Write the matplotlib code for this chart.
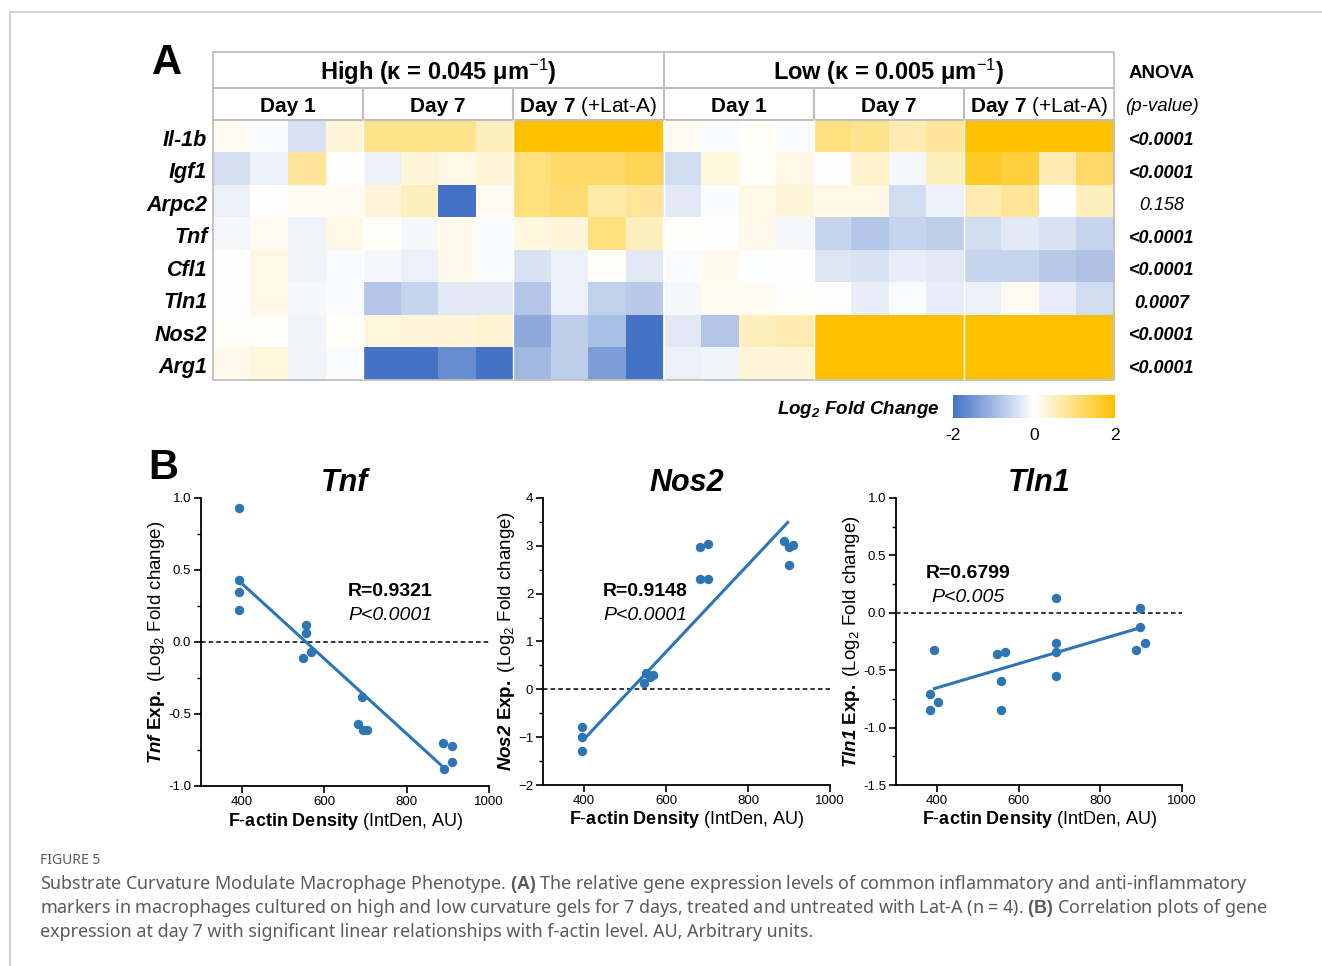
import numpy as np
import matplotlib
matplotlib.use("Agg")
import matplotlib.pyplot as plt
from matplotlib.colors import LinearSegmentedColormap
from matplotlib.lines import Line2D

plt.rcParams['font.family'] = ['Liberation Sans', 'DejaVu Sans']
plt.rcParams['mathtext.fontset'] = 'custom'
plt.rcParams['mathtext.rm'] = 'Liberation Sans'
plt.rcParams['mathtext.it'] = 'Liberation Sans:italic'
plt.rcParams['mathtext.bf'] = 'Liberation Sans:bold'
plt.rcParams['mathtext.bfit'] = 'Liberation Sans:bold:italic'

# ---------------- data: heatmap (log2 fold change) ----------------
genes = ["Il-1b", "Igf1", "Arpc2", "Tnf", "Cfl1", "Tln1", "Nos2", "Arg1"]
curvatures = ["High (κ = 0.045 μm$^{-1}$)", "Low (κ = 0.005 μm$^{-1}$)"]
days = ["Day 1", "Day 7", r"$\mathbf{Day\ 7}$ (+Lat-A)"]
anova_p = ["<0.0001", "<0.0001", "0.158", "<0.0001", "<0.0001", "0.0007", "<0.0001", "<0.0001"]
anova_bold = [True, True, False, True, True, True, True, True]

# columns: High D1 (4) | High D7 (4) | High D7+LatA (4) | Low D1 (4) | Low D7 (4) | Low D7+LatA (4)
il1b = [0.1, -0.05, -0.4, 0.3, 0.9, 0.9, 0.9, 0.5, 2, 2, 2, 2,
        0.1, -0.05, 0.05, -0.05, 1.0, 0.9, 0.6, 0.8, 2, 2, 2, 2]
igf1 = [-0.45, -0.2, 0.8, 0.0, -0.2, 0.3, 0.2, 0.3, 1.0, 1.2, 1.2, 1.3,
        -0.5, 0.25, 0.05, 0.2, 0.0, 0.4, -0.1, 0.5, 1.7, 1.5, 0.6, 1.2]
arpc2 = [-0.2, 0.0, 0.1, 0.1, 0.3, 0.5, -2.0, 0.1, 1.0, 1.1, 0.7, 0.8,
         -0.3, -0.05, 0.2, 0.3, 0.2, 0.2, -0.5, -0.2, 0.6, 0.8, 0.0, 0.5]
tnf = [-0.1, 0.1, -0.15, 0.2, 0.05, -0.1, 0.15, -0.05, 0.25, 0.3, 1.0, 0.5,
       0.02, 0.0, 0.15, -0.1, -0.6, -0.8, -0.6, -0.7, -0.5, -0.3, -0.4, -0.6]
cfl1 = [0.0, 0.2, -0.15, -0.05, -0.1, -0.2, 0.15, -0.05, -0.4, -0.2, 0.05, -0.3,
        -0.05, 0.15, -0.02, 0.0, -0.35, -0.4, -0.25, -0.3, -0.6, -0.6, -0.75, -0.85]
tln1 = [0.0, 0.2, -0.1, -0.05, -0.8, -0.6, -0.3, -0.3, -0.8, -0.2, -0.65, -0.75,
        -0.1, 0.1, 0.1, 0.02, 0.0, -0.25, -0.05, -0.25, -0.2, 0.1, -0.25, -0.5]
nos2 = [0.05, 0.05, -0.15, 0.05, 0.25, 0.3, 0.3, 0.35, -1.2, -0.7, -0.9, -2.0,
        -0.3, -0.8, 0.5, 0.6, 2, 2, 2, 2, 2, 2, 2, 2]
arg1 = [0.15, 0.25, -0.15, -0.05, -2, -2, -1.6, -2, -1.0, -0.7, -1.4, -2.0,
        -0.2, -0.15, 0.3, 0.3, 2, 2, 2, 2, 2, 2, 2, 2]

# ---------------- data: correlation plots ----------------
tnf_x = [392, 392, 392, 392, 556, 556, 547, 567, 692, 682, 693, 704, 889, 909, 911, 891]
tnf_y = [0.93, 0.43, 0.35, 0.22, 0.12, 0.06, -0.11, -0.07, -0.38, -0.57, -0.61, -0.61, -0.70, -0.72, -0.83, -0.88]
tnf_fit_x = [394, 893]
tnf_fit_y = [0.42, -0.88]

nos2_x = [394, 394, 394, 546, 552, 560, 568, 682, 703, 682, 703, 889, 900, 910, 900]
nos2_y = [-0.78, -0.99, -1.28, 0.14, 0.34, 0.25, 0.29, 2.97, 3.04, 2.31, 2.31, 3.10, 2.97, 3.02, 2.60]
nos2_fit_x = [397, 897]
nos2_fit_y = [-1.07, 3.49]

tln1_x = [394, 383, 403, 383, 546, 567, 557, 557, 692, 692, 692, 692, 898, 898, 909, 887]
tln1_y = [-0.32, -0.71, -0.78, -0.85, -0.36, -0.34, -0.59, -0.85, 0.13, -0.26, -0.34, -0.55, 0.04, -0.12, -0.26, -0.32]
tln1_fit_x = [394, 898]
tln1_fit_y = [-0.66, -0.13]

W, H = 1322, 966
fig = plt.figure(figsize=(W / 100, H / 100), dpi=100)


def box(x0, y0, x1, y1):
    return [x0 / W, 1 - y1 / H, (x1 - x0) / W, (y1 - y0) / H]


# card frame
fig.add_artist(Line2D([10 / W, 10 / W], [0, 1 - 12 / H], color="#cccccc", lw=1.2))
fig.add_artist(Line2D([10 / W, 1], [1 - 12 / H, 1 - 12 / H], color="#cccccc", lw=1.2))

# ---------------- panel A: heatmap ----------------
blue, gold = "#4472C4", "#FFC000"
cmap = LinearSegmentedColormap.from_list("bwy", [blue, "#FFFFFF", gold])
mat = np.array([il1b, igf1, arpc2, tnf, cfl1, tln1, nos2, arg1])

ax = fig.add_axes(box(213, 52, 1114, 380))
ax.imshow(mat, cmap=cmap, vmin=-2, vmax=2, aspect="auto", extent=(0, 24, 8, 0),
          interpolation="nearest")
ax.set_xlim(0, 24)
ax.set_ylim(8, -2.1)
ax.axis("off")

grid = "#bfbfbf"
ax.plot([0, 24, 24, 0, 0], [-2.1, -2.1, 8, 8, -2.1], color=grid, lw=1.3, clip_on=False)
for yy in [-1, 0]:
    ax.plot([0, 24], [yy, yy], color=grid, lw=1.5)
ax.plot([12, 12], [-2.1, 0], color=grid, lw=1.5)
for xx in [4, 8, 16, 20]:
    ax.plot([xx, xx], [-1, 0], color=grid, lw=1.5)
for xx in [4, 8, 12, 16, 20]:
    ax.plot([xx, xx], [0, 8], color="white", lw=1.0)

for i, lab in enumerate(curvatures):
    ax.text(6 + 12 * i, -1.48, lab, ha="center", va="center", fontsize=17, fontweight="bold")
    for j, d in enumerate(days):
        ax.text(2 + 12 * i + 4 * j, -0.43, d, ha="center", va="center", fontsize=15,
                fontweight="bold" if j < 2 else "normal")

for r, g in enumerate(genes):
    ax.text(-0.15, r + 0.62, g, ha="right", va="center", fontsize=15.5,
            fontweight="bold", style="italic")

ax_x = 25.28
ax.text(ax_x, -1.45, "ANOVA", ha="center", va="center", fontsize=13.5, fontweight="bold")
ax.text(ax_x, -0.43, "(p-value)", ha="center", va="center", fontsize=13.5, style="italic")
for r, (p, b) in enumerate(zip(anova_p, anova_bold)):
    ax.text(ax_x, r + 0.64, p, ha="center", va="center", fontsize=13, style="italic",
            fontweight="bold" if b else "normal")

fig.text(167 / W, 1 - 63 / H, "A", ha="center", va="center", fontsize=30, fontweight="bold")

# colour bar
cax = fig.add_axes(box(953, 395, 1115, 418))
sm = plt.cm.ScalarMappable(cmap=cmap, norm=plt.Normalize(-2, 2))
cb = fig.colorbar(sm, cax=cax, orientation="horizontal")
cb.outline.set_visible(False)
cb.set_ticks([-2, 0, 2])
cb.set_ticklabels(["-2", "0", "2"])
cax.tick_params(length=0, labelsize=12.5, pad=7)
fig.text(940 / W, 1 - 410 / H, r"$\mathbfit{Log_2\ Fold\ Change}$", ha="right", va="center",
         fontsize=13.5)

# ---------------- panel B: scatter plots ----------------
pt_col = "#2E75B6"
panels = [
    ("Tnf", tnf_x, tnf_y, tnf_fit_x, tnf_fit_y, (201, 498, 489, 786), (-1, 1), 0.5,
     "R=0.9321", "P<0.0001", (390, 592)),
    ("Nos2", nos2_x, nos2_y, nos2_fit_x, nos2_fit_y, (543, 498, 830, 785), (-2, 4), 1,
     "R=0.9148", "P<0.0001", (645, 592)),
    ("Tln1", tln1_x, tln1_y, tln1_fit_x, tln1_fit_y, (896, 498, 1182, 785), (-1.5, 1), 0.5,
     "R=0.6799", "P<0.005", (968, 573)),
]

for name, xs, ys, fx, fy, (x0, y0, x1, y1), ylim, step, rtxt, ptxt, (tx, ty) in panels:
    a = fig.add_axes(box(x0, y0, x1, y1))
    a.axhline(0, color="black", lw=1.1, ls=(0, (3, 2)), zorder=1)
    a.plot(fx, fy, color=pt_col, lw=2.2, zorder=2)
    a.scatter(xs, ys, s=46, color=pt_col, zorder=3, linewidths=0)
    a.set_xlim(300, 1000)
    a.set_ylim(*ylim)
    a.set_xticks([400, 600, 800, 1000])
    a.set_yticks(np.arange(ylim[0], ylim[1] + 0.001, step))
    a.set_yticks(np.arange(ylim[0], ylim[1] + 0.001, step / 2), minor=True)
    if step < 1:
        a.yaxis.set_major_formatter(plt.FormatStrFormatter("%.1f"))
    for s in ["top", "right"]:
        a.spines[s].set_visible(False)
    for s in ["left", "bottom"]:
        a.spines[s].set_linewidth(1.3)
    a.tick_params(which="major", length=5, width=1.2, labelsize=9.5, pad=2)
    a.tick_params(which="minor", length=3, width=1.0)
    a.set_title(name, fontsize=22, fontweight="bold", style="italic", pad=5)
    a.set_xlabel(r"$\mathbf{F}$-$\mathbf{actin\ Density}$ (IntDen, AU)", fontsize=13, labelpad=2)
    a.set_ylabel(r"$\mathbfit{" + name + r"}\ \mathbf{Exp.}\ (\mathrm{Log_2\ Fold\ change})$",
                 fontsize=13.5, labelpad=1)
    fig.text(tx / W, 1 - ty / H, rtxt, ha="center", va="center", fontsize=14, fontweight="bold")
    fig.text(tx / W, 1 - (ty + 24) / H, ptxt, ha="center", va="center", fontsize=14, style="italic")

fig.text(163 / W, 1 - 468 / H, "B", ha="center", va="center", fontsize=30, fontweight="bold")

# ---------------- caption ----------------
cap_col = "#5a5a5a"
fig.text(40 / W, 1 - 860 / H, "FIGURE 5", ha="left", va="center", fontsize=10,
         color=cap_col, family="Noto Sans")
caption = [
    r"Substrate Curvature Modulate Macrophage Phenotype. $\mathbf{(A)}$ The relative gene expression levels of common inflammatory and anti-inflammatory",
    r"markers in macrophages cultured on high and low curvature gels for 7 days, treated and untreated with Lat-A (n = 4). $\mathbf{(B)}$ Correlation plots of gene",
    "expression at day 7 with significant linear relationships with f-actin level. AU, Arbitrary units.",
]
for k, line in enumerate(caption):
    fig.text(40 / W, 1 - (884 + 24 * k) / H, line, ha="left", va="center", fontsize=12.9,
             color=cap_col, family="Noto Sans")

fig.savefig("out.png", dpi=100)
